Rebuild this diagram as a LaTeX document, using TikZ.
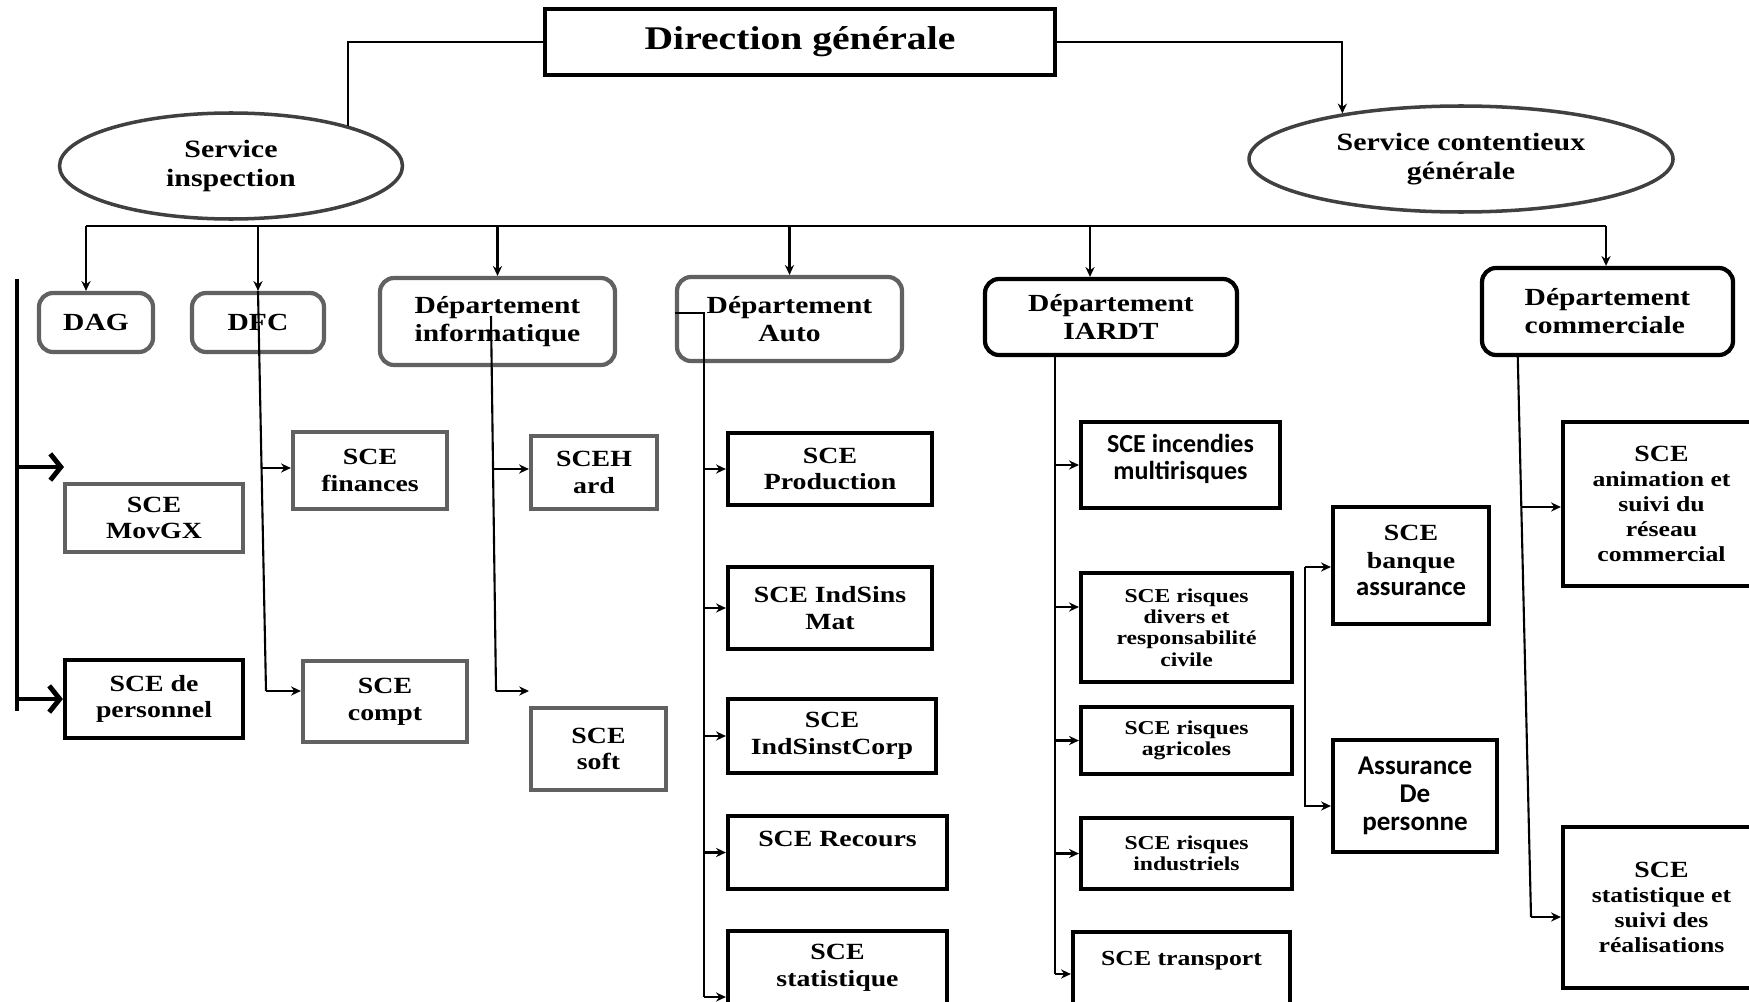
\documentclass[tikz,border=0pt]{standalone}
\usepackage{fontspec}
\setmainfont{Liberation Serif}[FakeStretch=1.2]
\newfontfamily\calfont{Carlito}
\usetikzlibrary{arrows.meta,shapes.geometric}
\newcommand{\fs}[2]{\fontsize{#1}{#2}\selectfont}

\begin{document}
\begin{tikzpicture}[x=0.1mm,y=-0.1mm,
  conn/.style={line width=0.6pt},
  arr/.style={conn, -{Stealth[length=2.8pt,width=2.6pt]}},
  bigarr/.style={line width=1.4pt, -{Straight Barb[length=3pt,width=7.5pt]}},
  box/.style={draw, line width=1.2pt, fill=white, align=center, inner sep=1pt, font=\bfseries\fs{6.6}{7.6}},
  gbox/.style={box, draw=black!62},
  dept/.style={box, rounded corners=4pt, font=\bfseries\fs{7}{8}},
  gdept/.style={dept, draw=black!62},
  oval/.style={ellipse, draw=black!75, line width=1pt, fill=white, inner sep=0pt, align=center, font=\bfseries\fs{7.1}{8.2}},
  small/.style={font=\bfseries\fs{5.6}{6.1}}
]
\useasboundingbox (0,0) rectangle (1749,1001);
\clip (0,0) rectangle (1749,1001);

  % Top
  \node[box, line width=1.3pt, minimum width=51mm, minimum height=6.6mm, font=\bfseries\fs{9.4}{11}] (dg) at (800,42) {Direction générale};
  \node[oval, minimum width=34.3mm, minimum height=10.6mm] (insp) at (231,166) {Service\\inspection};
  \node[oval, minimum width=42.4mm, minimum height=10.6mm] (cont) at (1461,159) {Service contentieux\\générale};

  % Departments
  \node[gdept, minimum width=11.4mm, minimum height=5.9mm] (dag) at (96,322.5) {DAG};
  \node[gdept, minimum width=13.2mm, minimum height=5.9mm] (dfc) at (258,322.5) {DFC};
  \node[gdept, minimum width=23.5mm, minimum height=8.7mm] (info) at (497.5,321.5) {Département\\informatique};
  \node[gdept, minimum width=22.5mm, minimum height=8.4mm] (auto) at (789.5,319) {Département\\Auto};
  \node[dept, minimum width=25.2mm, minimum height=7.6mm] (iardt) at (1111,317) {Département\\IARDT};
  \node[dept, minimum width=25.1mm, minimum height=8.7mm, align=left] (comm) at (1607.5,311.5) {Département\\commerciale};

  % DAG services
  \node[gbox, minimum width=17.8mm, minimum height=6.8mm] (movgx) at (154,518) {SCE\\MovGX};
  \node[box, minimum width=17.8mm, minimum height=7.8mm] (pers) at (154,699) {SCE de\\personnel};
  % DFC services
  \node[gbox, minimum width=15.4mm, minimum height=7.7mm] (fin) at (370,470.5) {SCE\\finances};
  \node[gbox, minimum width=16.4mm, minimum height=8.1mm] (compt) at (385,701.5) {SCE\\compt};
  % informatique services
  \node[gbox, minimum width=12.6mm, minimum height=7.3mm] (sceh) at (594,472.5) {SCEH\\ard};
  \node[gbox, minimum width=13.5mm, minimum height=8.2mm] (soft) at (598.5,749) {SCE\\soft};
  % Auto services
  \node[box, minimum width=20.4mm, minimum height=7.2mm] (prod) at (830,469) {SCE\\Production};
  \node[box, minimum width=20.4mm, minimum height=8.2mm] (mat) at (830,608) {SCE IndSins\\Mat};
  \node[box, minimum width=20.8mm, minimum height=7.4mm] (corp) at (832,736) {SCE\\IndSinstCorp};
  \node[box, minimum width=21.9mm, minimum height=7.3mm] (rec) at (837.5,852.5) {SCE Recours\\ \mbox{}};
  \node[box, minimum width=21.9mm, minimum height=7.3mm] (stat) at (837.5,967.5) {SCE\\statistique};
  % IARDT services
  \node[box, minimum width=19.9mm, minimum height=8.6mm, font=\calfont\bfseries\fs{7.4}{7.6}] (inc) at (1180.5,465) {SCE incendies\\multirisques\\[-3pt] \mbox{}};
  \node[box, small, minimum width=21.1mm, minimum height=10.9mm] (div) at (1186.5,627.5) {SCE risques\\divers et\\responsabilité\\civile};
  \node[box, small, minimum width=21.1mm, minimum height=6.7mm] (agr) at (1186.5,740.5) {SCE risques\\agricoles};
  \node[box, small, minimum width=21.1mm, minimum height=7.1mm] (ind) at (1186.5,853.5) {SCE risques\\industriels};
  \node[box, minimum width=21.7mm, minimum height=7.8mm, font=\bfseries\fs{6.1}{7}] (tra) at (1181.5,971) {SCE transport\\ \mbox{}};
  \node[box, minimum width=15.6mm, minimum height=11.7mm, font=\bfseries\fs{6.6}{7.9}] (banq) at (1411,565.5) {SCE\\banque\\{\calfont\fs{7.6}{7.9}assurance}\\[-5pt] \mbox{}};
  \node[box, minimum width=16.4mm, minimum height=11.2mm, font=\calfont\bfseries\fs{7.7}{7.9}] (apers) at (1415,796) {Assurance\\De\\personne};
  % commercial services
  \node[box, minimum width=19.7mm, minimum height=16.4mm, font=\bfseries\fs{6.1}{7.1}] (anim) at (1661.5,504) {{\fs{6.6}{7.1}SCE}\\animation et\\suivi du\\réseau\\commercial};
  \node[box, minimum width=19.7mm, minimum height=16.1mm, font=\bfseries\fs{6.1}{7.1}] (sreal) at (1661.5,907.5) {{\fs{6.6}{7.1}SCE}\\statistique et\\suivi des\\réalisations};

  % Draw top links
  \draw[conn] (dg.west) -| (insp.19);
  \draw[arr] (dg.east) -| (cont.159);

  % Draw bus
  \coordinate (busL) at (86,226);
  \coordinate (busI) at (1090,226);
  \coordinate (busR) at (1606,226);
  \draw[conn] (busL) -- (busR);
  \draw[arr] (busL) -- (busL |- dag.north);
  \draw[arr] (dfc.north |- busL) -- (dfc.north);
  \draw[arr] (info.north |- busL) -- (info.north);
  \draw[arr] (auto.north |- busL) -- (auto.north);
  \draw[arr] (busI) -- (busI |- iardt.north);
  \draw[arr] (busR) -- (busR |- comm.north);

  % DAG
  \coordinate (barT) at (17,279);
  \coordinate (barB) at (17,711);
  \coordinate (movA) at (64,467);
  \draw[line width=1.2pt] (barT) -- (barB);
  \draw[bigarr] (movA -| barT) -- (movA);
  \draw[bigarr] (pers.west -| barT) -- (pers.west);

  % DFC
  \coordinate (dfcF) at (261.5,468);
  \coordinate (dfcB) at (266,691);
  \draw[conn] (dfc.north) -- (dfcB);
  \draw[arr] (dfcF) -- (dfcF -| fin.west);
  \draw[arr] (dfcB) -- (dfcB -| compt.west);

  % informatique
  \coordinate (infT) at (491,316);
  \coordinate (infH) at (493,469);
  \coordinate (infB) at (496,691);
  \coordinate (softA) at (529,691);
  \draw[conn] (infT) -- (infB);
  \draw[arr] (infH) -- (infH -| sceh.west);
  \draw[arr] (infB) -- (softA);

  % Auto
  \coordinate (autoT) at (704,313);
  \coordinate (autoB) at (704,997);
  \draw[conn] (autoT -| auto.west) -- (autoT) -- (autoB);
  \draw[arr] (autoT |- prod.west) -- (prod.west);
  \draw[arr] (autoT |- mat.west) -- (mat.west);
  \draw[arr] (autoT |- corp.west) -- (corp.west);
  \draw[arr] (autoT |- rec.west) -- (rec.west);
  \draw[arr] (autoB) -- (autoB -| stat.west);

  % IARDT
  \coordinate (iarT) at (1055,355);
  \coordinate (divA) at (1055,607);
  \coordinate (iarB) at (1055,974);
  \draw[conn] (iarT) -- (iarB);
  \draw[arr] (iarT |- inc.west) -- (inc.west);
  \draw[arr] (divA) -- (divA -| div.west);
  \draw[arr] (iarT |- agr.west) -- (agr.west);
  \draw[arr] (iarT |- ind.west) -- (ind.west);
  \draw[arr] (iarB) -- (iarB -| tra.west);

  % banque / personne
  \coordinate (bkT) at (1305,567);
  \coordinate (bkB) at (1305,806);
  \draw[arr] (bkT) -- (bkT -| banq.west);
  \draw[arr] (bkT) -- (bkB) -- (bkB -| apers.west);

  % commercial
  \coordinate (comT) at (1517.7,355);
  \coordinate (comH) at (1521,507);
  \coordinate (comB) at (1531,917);
  \draw[conn] (comT) -- (comB);
  \draw[arr] (comH) -- (comH -| anim.west);
  \draw[arr] (comB) -- (comB -| sreal.west);
\end{tikzpicture}
\end{document}
